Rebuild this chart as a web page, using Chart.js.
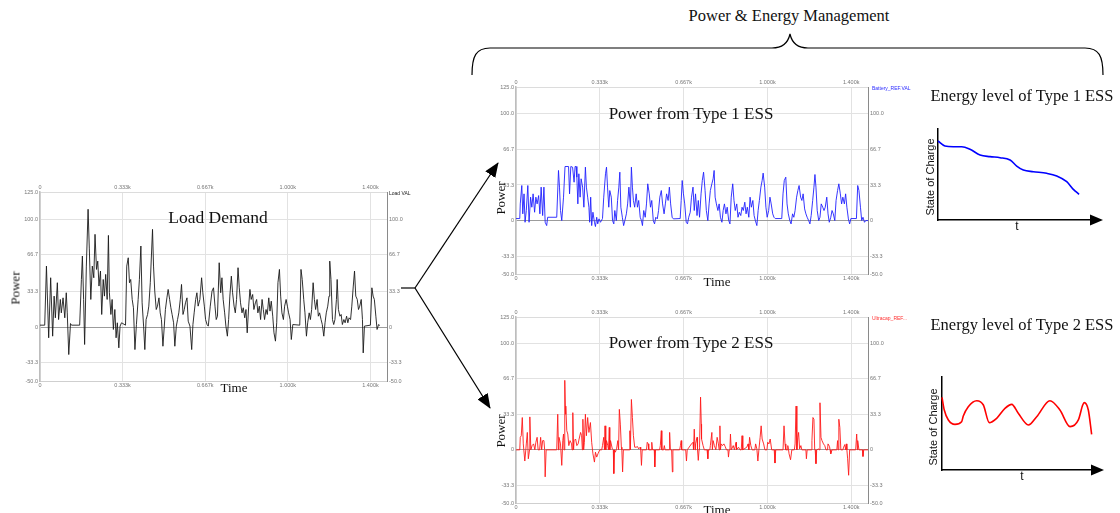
<!DOCTYPE html>
<html>
<head>
<meta charset="utf-8">
<title>Power & Energy Management</title>
<script src="https://cdn.jsdelivr.net/npm/chart.js@4.4.1/dist/chart.umd.min.js"></script>
<style>
  html, body { margin: 0; padding: 0; background: #fff; }
  body { width: 1120px; height: 513px; position: relative; overflow: hidden; }
  canvas, svg, .lbl { position: absolute; }
  .lbl { white-space: nowrap; transform: translate(-50%, -50%); font-family: 'Liberation Serif', 'DejaVu Serif', serif; color: #111; line-height: 1; }
  .rot { transform: translate(-50%, -50%) rotate(-90deg); }
  .sans { font-family: 'Liberation Sans', Arial, sans-serif; }
  .tag { transform: translate(0, -50%); font-family: 'Liberation Sans', Arial, sans-serif; font-size: 5px; }
</style>
</head>
<body>

<svg width="1120" height="513" style="left:0px;top:0px">
  <defs>
    <marker id="ah" markerUnits="userSpaceOnUse" markerWidth="15" markerHeight="12" refX="14" refY="6" orient="auto">
      <path d="M0,0 L15,6 L0,12 z" fill="#000"/>
    </marker>
  </defs>
  <path d="M472,75 C472,56 476,48 490,48 L772,48 C783,48 788,43 790,34 C792,43 797,48 808,48 L1085,48 C1099,48 1103,56 1103,75" fill="none" stroke="#000" stroke-width="1.2"/>
  <line x1="401" y1="288" x2="415" y2="288" stroke="#000" stroke-width="1.2"/>
  <line x1="415" y1="288" x2="498" y2="163" stroke="#000" stroke-width="1.2" marker-end="url(#ah)"/>
  <line x1="415" y1="288" x2="490" y2="408" stroke="#000" stroke-width="1.2" marker-end="url(#ah)"/>
</svg>

<canvas id="loadChart" width="420" height="212" style="left:0px;top:180px"></canvas>
<canvas id="batteryChart" width="430" height="211" style="left:476px;top:75px"></canvas>
<canvas id="ultracapChart" width="430" height="210" style="left:476px;top:305px"></canvas>
<canvas id="soc1Chart" width="205" height="110" style="left:905px;top:120px"></canvas>
<canvas id="soc2Chart" width="205" height="112" style="left:905px;top:368px"></canvas>

<div class="lbl" style="left:789px;top:16px;font-size:16.5px">Power &amp; Energy Management</div>
<div class="lbl" style="left:218px;top:218px;font-size:17.5px">Load Demand</div>
<div class="lbl" style="left:691px;top:113px;font-size:17px">Power from Type 1 ESS</div>
<div class="lbl" style="left:691px;top:342px;font-size:17px">Power from Type 2 ESS</div>
<div class="lbl" style="left:1022px;top:96px;font-size:16.5px">Energy level of Type 1 ESS</div>
<div class="lbl" style="left:1022px;top:325px;font-size:16.5px">Energy level of Type 2 ESS</div>

<div class="lbl rot" style="left:15px;top:288px;font-size:13px">Power</div>
<div class="lbl rot" style="left:500px;top:198px;font-size:13px">Power</div>
<div class="lbl rot" style="left:500px;top:431px;font-size:13px">Power</div>
<div class="lbl" style="left:234px;top:387px;font-size:13px">Time</div>
<div class="lbl" style="left:717px;top:281px;font-size:13px">Time</div>
<div class="lbl" style="left:717px;top:509px;font-size:13px">Time</div>

<div class="lbl rot sans" style="left:930px;top:177px;font-size:11px">State of Charge</div>
<div class="lbl rot sans" style="left:933px;top:427px;font-size:11px">State of Charge</div>
<div class="lbl sans" style="left:1017px;top:226px;font-size:12px">t</div>
<div class="lbl sans" style="left:1022px;top:476px;font-size:12px">t</div>

<div class="lbl tag" style="left:389px;top:193px;color:#222">Load VAL</div>
<div class="lbl tag" style="left:872px;top:88px;color:#2a2aff">Battery_REF.VAL</div>
<div class="lbl tag" style="left:872px;top:318px;color:#ff3030">Ultracap_REF...</div>

<script>
// Skalornas tickar (samma för alla tre tidsdiagram)
const xTickValues = [0, 333.3, 666.7, 1000, 1333.3];
const xTickLabels = ['0', '0.333k', '0.667k', '1.000k', '1.400k'];
const yTickValues = [-50, -33.3, 0, 33.3, 66.7, 100, 125];
const yTickLabels = ['-50.0', '-33.3', '0', '33.3', '66.7', '100.0', '125.0'];

// Lastbehov (Load VAL)
const loadTime = [0,19,26,35,43,51,57,62,70,75,82,86,93,100,106,110,116,123,127,160,167,171,176,180,187,194,199,205,211,217,
  222,228,233,238,244,249,255,260,265,271,276,280,286,291,296,302,307,312,318,323,329,334,345,350,356,361,366,372,377,383,
  389,396,401,407,412,418,423,428,434,439,445,454,458,463,469,474,480,485,490,496,501,506,512,517,523,528,533,539,544,550,
  555,560,566,571,577,582,587,593,598,605,612,617,622,628,633,638,645,652,657,663,668,674,679,
  687,694,700,706,711,716,723,729,734,739,745,750,756,761,766,772,777,783,788,793,799,804,809,815,820,826,831,836,842,847,
  852,858,863,869,874,879,885,890,896,901,906,912,917,923,928,933,939,944,950,955,960,966,971,976,982,987,993,998,1003,1009,
  1014,1020,1048,1053,1058,1064,1069,1075,1080,1086,1091,1096,1102,1107,1112,1118,1123,1128,1134,1139,1145,1150,1155,1161,1166,1169,1174,1180,1185,1190,
  1196,1199,1204,1210,1215,1220,1226,1231,1237,1242,1247,1253,1258,1264,1269,1274,1280,1285,1290,1296,1301,1304,1309,1333,1339,1344,1349,1355,1360,1366,1371];
const loadPower = [1.7,1.7,56.4,-10,45.6,-8.5,28.6,8.5,41,6.9,25.5,13.1,27,8.5,31.7,13.1,-25.5,3.2,1.7,1.7,44,65.7,25.5,-16.2,56.4,109,72.3,25.5,56.4,45.6,
  85.8,53.3,61,37.9,51.8,11.6,44,28.6,48.7,25.5,84.8,31.7,11.6,25.5,-2.3,16.2,-10,3.9,-19.3,0.8,3.9,3.2,1.7,56.4,64.1,41,44,25.5,17.8,-20.9,
  2.3,25.5,44,75,22.4,0.8,-20.9,6.9,11.6,19.3,41,90.4,56.4,33.2,16.2,19.3,27,13.1,6.9,-17.8,-0.8,16.2,27,34.8,25.5,17.8,11.6,3.9,-17.8,0.8,
  6.9,13.1,25.5,39.4,11.6,16.2,22.4,27,5.4,0.8,-20.9,2.3,13.1,25.5,31.7,19.3,25.5,45.6,31.7,19.3,6.9,2.3,0.8,
  19.3,33.2,36.3,19.3,6.9,10,59.5,31.7,45.6,25.5,13.1,0.8,-8.5,6.9,28.6,47.1,31.7,19.3,13.1,25.5,54.9,36.3,22.4,13.1,17.8,8.5,16.2,-5.4,19.3,34.8,
  25.5,30.1,16.2,22.4,25.5,13.1,19.3,6.9,25.5,16.2,6.9,16.2,11.6,27,14.7,23.9,10,-5.4,-13.1,3.9,41,53.3,28.6,13.1,6.9,19.3,25.5,19.3,13.1,6.9,
  -11.6,2.3,1.7,53.3,44,25.5,13.1,-8.5,3.9,13.1,6.9,16.2,41,25.5,16.2,25.5,10,13.1,6.9,2.3,-8.5,3.9,13.1,19.3,28.6,61,44,6.9,2.3,6.9,
  25.5,44,16.2,10,11.6,2.3,6.9,3.9,10,3.9,8.5,6.9,19.3,37.9,51.8,28.6,25.5,16.2,19.3,25.5,6.9,-24,0.8,1.7,36.3,28.6,25.5,10,-2.3,2.3,1.4];

// Effekt från typ 1-lager (Battery_REF.VAL)
const batteryTime = [0,15,17,23,27,32,36,41,47,52,58,63,68,74,79,84,90,95,100,106,111,116,122,126,162,169,173,177,182,189,
  195,209,213,218,225,231,235,239,242,246,250,255,259,265,270,276,280,285,290,293,297,301,306,312,316,321,325,330,336,344,
  349,356,360,364,369,373,379,384,389,393,399,404,409,413,417,423,428,433,439,444,449,455,459,463,467,472,478,483,488,494,
  499,503,508,514,519,524,530,535,540,546,551,556,562,567,572,578,583,589,594,599,605,610,615,621,626,653,657,661,666,671,
  677,682,687,693,
  698,704,709,714,720,725,730,736,741,746,752,757,763,768,773,779,784,788,792,797,803,808,813,819,824,829,835,840,846,851,
  856,862,867,872,878,883,888,894,899,904,910,915,920,926,931,936,942,947,952,958,963,968,974,979,983,989,994,999,1005,1010,
  1015,1021,1026,1031,1057,1062,1067,1073,1078,1083,1089,1094,1100,1105,1110,1116,1121,1126,1132,1137,1142,1148,1153,1158,1164,1169,1174,1180,1185,1189,
  1193,1198,1204,1209,1214,1220,1225,1230,1236,1241,1246,1252,1257,1262,1268,1273,1279,1284,1290,1295,1300,1306,1311,1316,1322,1327,1332,1354,1359,1364,
  1370,1375,1380,1386,1391,1400];
const batteryPower = [1.9,1.9,15.6,32.8,6.3,25,-1.6,9.4,32.8,-1.6,21.9,12.5,25,7.8,21.9,15.6,23.4,6.3,31.3,4.7,31.3,-1.6,-4.7,3.1,3.1,46.9,31.3,9.4,0,21.9,
  50.6,50.6,25,50.6,50,35.9,50.6,50.6,40.6,15.6,43.8,21.9,39.1,31.3,12.5,50,31.3,21.9,12.5,-1.6,21.9,-4.7,7.8,-1.6,-5.6,3.1,-3.1,1.6,-1.6,1.9,
  21.9,43.8,50,31.3,12.5,28.1,21.9,0,-3.1,9.4,0,18.8,31.3,45.3,12.5,3.1,-4.7,0,6.3,15.6,31.3,12.5,50,31.3,18.8,12.5,25,12.5,18.8,3.1,
  0,-4.7,9.4,3.1,15.6,34.4,25,12.5,18.8,0,-3.1,3.1,1.6,9.4,21.9,28.1,15.6,6.3,15.6,25,18.8,31.3,15.6,3.1,1.6,1.9,18.8,37.5,25,15.6,
  -1.6,-3.1,3.1,7.8,
  21.9,31.3,9.4,25,4.7,18.8,3.1,25,37.5,45.3,28.1,9.4,0,15.6,28.1,34.4,39.1,46.9,21.9,15.6,9.4,15.6,3.1,-1.6,9.4,15.6,6.3,12.5,0,-3.1,
  21.9,34.4,18.8,9.4,15.6,3.1,7.8,4.7,12.5,9.4,17.2,6.3,12.5,3.1,21.9,12.5,18.8,4.7,0,-4.7,9.4,18.8,31.3,37.5,44.4,31.3,12.5,3.1,9.4,21.9,
  15.6,6.3,3.1,1.9,1.9,25,37.5,40.6,15.6,6.3,0,-3.1,6.3,3.1,9.4,21.9,28.1,32.8,21.9,18.8,25,10.9,6.3,3.1,0,-3.1,4.7,18.8,31.3,43.1,
  31.3,9.4,0,3.1,15.6,12.5,9.4,12.5,21.9,6.3,-1.6,3.1,9.4,6.3,0,18.8,28.1,34.4,25,15.6,21.9,15.6,25,12.5,1.6,-3.1,1.9,1.9,32.8,28.1,
  12.5,0,3.1,-1.6,0,0];

// Effekt från typ 2-lager (Ultracap)
const ultracapTime = [0,15,17,21,25,29,35,39,41,45,49,54,55,59,64,70,75,79,84,88,94,98,102,106,111,114,116,120,162,166,
  169,171,177,182,186,189,191,194,197,198,202,206,210,215,221,223,226,229,231,237,242,247,251,257,261,264,266,269,272,276,
  280,285,290,296,301,306,312,316,321,326,333,341,344,349,352,354,357,360,365,368,371,373,376,383,387,389,392,395,400,405,
  408,411,415,419,421,424,427,451,453,455,459,463,467,472,478,483,488,494,496,499,502,519,522,526,528,538,540,543,550,552,
  555,571,574,578,580,587,590,593,609,611,614,619,622,624,651,654,657,659,675,678,681,
  698,704,706,709,712,714,720,722,725,728,730,734,737,738,744,749,760,763,765,771,773,779,781,784,789,795,800,805,808,811,
  813,816,821,827,832,837,843,845,848,851,853,856,864,869,875,877,885,891,896,899,902,918,923,926,929,934,939,950,953,958,
  962,966,971,975,979,985,990,998,1001,1006,1011,1017,1027,1030,1033,1062,1066,1070,1073,1078,1081,1084,1086,1092,1097,1107,1110,1114,1117,1121,
  1124,1128,1133,1137,1153,1155,1158,1174,1177,1181,1185,1188,1190,1193,1196,1204,1206,1209,1213,1217,1223,1228,1233,1239,1241,1247,1249,1252,1257,
  1276,1279,1281,1284,1288,1292,1300,1303,1308,1311,1314,1316,1319,1323,1327,1351,1355,1358,1359,1364,1378,1380,1383,1400];
const ultracapPower = [0,0,11.8,13.3,30.4,5.6,-10.5,0,5.6,16.4,-8.4,0,31,0,4,5.6,0,7.1,11.8,0,0,11.8,0,8.7,8.7,0,-25.4,0,0,33.5,
  0,11.8,5.6,-14.6,8.7,14.9,0,65.4,33.5,41.2,18,14.9,4,8.7,5.6,0,35,0,8.7,10.2,4,5.6,10.2,16.4,13.3,0,28.8,0,7.1,33.5,
  13.3,30.4,16.4,25.7,7.1,-3.7,-11.5,-2.2,-6.8,-3.7,0,0,4,11.8,0,22.6,0,8.7,4,0,21.1,0,8.7,0.9,0,-22.3,0,-2.2,0.9,8.7,
  0,38.1,24.2,2.5,0,-20.8,0,0,18,0,47.4,30.4,13.3,2.5,2.5,3.1,0.9,2.5,0,-14.6,0,0,7.1,5.6,0,0,7.1,0,0,-16.1,
  0,0,4,18,0,0,4,0,0,16.4,0,0,-20.8,0,0,4,8.7,0,0,-10.5,0,
  5.6,7.1,0,19.5,0,5.6,11.8,0,-9.9,0,2.5,49.6,24.2,10.2,4,0,0,-8.4,0,0,4,16.4,0,8.7,4,0,11.8,5.6,0,22.6,
  0,5.6,4,5.6,3.1,0,0,-6.8,0,2.5,14.9,0,4,0,7.1,0,2.5,0,0,13.3,0,2.5,5.6,0,11.8,4,0,0,5.6,0.9,
  -10.5,0,11.8,22.6,10.2,5.6,0,0,7.1,5.6,10.2,0,0,-12.4,0,0,22.6,5.6,0,0,4,0,-3.7,-9.3,0,0,5.6,41.2,0,11.8,
  16.4,0.9,4,0,0,-8.4,0,0,8.7,30.4,28.8,0,0,-13,0,0.9,0,44.3,11.8,8.7,5.6,4,0,0,5.6,3.1,0,-3.7,0,
  0,8.7,0,28.8,21.1,0,0,2.5,5,0,5.6,0,-8.4,-23.9,0,0,14.9,0,8.7,0,0,-6.2,0,0];

// Laddningsnivå (skiss, relativa enheter 0-100)
const soc1T = [0,4.5,9.9,15.4,20.8,27.3,33.8,40.3,46.8,51.1,55.4,61.9,70.6,77.1,83.6,87.9,91.6];
const soc1Level = [86.8,81.3,80.5,80.5,77.7,71.4,69.6,68.5,65.9,59.3,54.9,53.1,51.3,48.4,42.1,33.7,28.2];
const soc2T = [0,1.5,4.2,8.6,13,14.1,17.4,23,27.4,31.3,36.2,41.7,46.2,50.5,57.2,62.7,71.5,78.1,84.8,90.3,93.2,94.2,96.9,99.1];
const soc2Level = [78.2,64.5,53.8,49.1,51.9,58.1,68.1,74.5,69.9,50.9,55.6,66.3,70.6,61,48.4,57.3,74.5,64.5,46.6,53.8,69.9,72.4,64.5,38.4];

Chart.defaults.font.family = "'Liberation Sans', Arial, sans-serif";

const tickFont = { size: 5.5 };
const tickColor = '#777';

/**
 * Bygger ett x/y-par för varje mätpunkt.
 */
function toPoints(xs, ys) {
    const n = Math.min(xs.length, ys.length);
    const pts = [];
    for (let i = 0; i < n; i++) pts.push({ x: xs[i], y: ys[i] });
    return pts;
}

function setXTicks(scale) { scale.ticks = xTickValues.map(v => ({ value: v })); }
function setYTicks(scale) { scale.ticks = yTickValues.map(v => ({ value: v })); }

/**
 * Skapar ett oscilloskop-liknande tidsdiagram.
 * @param {string} id - canvas-id
 * @param {Array} times - tidpunkter
 * @param {Array} values - effektvärden
 * @param {string} color - linjefärg
 * @param {Object} box - axlarnas bredd/höjd runt ritytan
 */
function createScopeChart(id, times, values, color, box) {
    const xAxis = (pos, h, grid) => ({
        type: 'linear', position: pos, min: 0, max: 1400,
        afterBuildTicks: setXTicks,
        afterFit: s => { s.height = h; },
        ticks: { font: tickFont, color: tickColor, padding: 1, maxRotation: 0, autoSkip: false,
                 callback: (v, i) => xTickLabels[i] },
        grid: { display: grid, drawTicks: false, color: '#e2e2e2', lineWidth: 1 },
        border: { color: pos === 'top' ? '#dcdcdc' : '#cfcfcf', width: 1 }
    });
    const yAxis = (pos, w, grid) => ({
        type: 'linear', position: pos, min: -50, max: 125,
        afterBuildTicks: setYTicks,
        afterFit: s => { s.width = w; },
        // högeraxeln visar inte 125.0 (där står signalens namn)
        ticks: { font: tickFont, color: tickColor, padding: 2, autoSkip: false,
                 callback: (v, i) => (pos === 'right' && i === yTickLabels.length - 1) ? '' : yTickLabels[i] },
        grid: { display: grid, drawTicks: false, lineWidth: 1,
                color: c => (c.tick && c.tick.value === 0) ? '#9c9c9c' : '#e2e2e2' },
        border: { color: pos === 'left' ? '#bdbdbd' : '#8a8a8a', width: pos === 'left' ? 1.5 : 1 }
    });

    return new Chart(document.getElementById(id), {
        type: 'line',
        data: {
            datasets: [{
                data: toPoints(times, values),
                borderColor: color,
                borderWidth: 0.9,
                pointRadius: 0,
                tension: 0
            }]
        },
        options: {
            responsive: false,
            animation: false,
            events: [],
            layout: { padding: 0 },
            plugins: { legend: { display: false }, tooltip: { enabled: false } },
            scales: {
                x: xAxis('bottom', box.bottom, true),
                x2: xAxis('top', box.top, false),
                y: yAxis('left', box.left, true),
                y2: yAxis('right', box.right, false)
            }
        }
    });
}

// Pilspets på tidsaxeln i SOC-skisserna
const arrowHead = {
    id: 'arrowHead',
    afterDraw(chart) {
        const { ctx, chartArea: a } = chart;
        ctx.save();
        ctx.fillStyle = '#000';
        ctx.beginPath();
        ctx.moveTo(a.right - 2, a.bottom - 5.5);
        ctx.lineTo(a.right + 11, a.bottom);
        ctx.lineTo(a.right - 2, a.bottom + 5.5);
        ctx.closePath();
        ctx.fill();
        ctx.restore();
    }
};

/**
 * Skapar en skiss av laddningsnivån över tid.
 */
function createSocChart(id, xs, ys, color, pad) {
    const axis = {
        type: 'linear', min: 0, max: 100,
        ticks: { display: false },
        grid: { display: false, drawTicks: false },
        border: { color: '#000', width: 1.5 }
    };
    return new Chart(document.getElementById(id), {
        type: 'line',
        data: {
            datasets: [{
                data: toPoints(xs, ys),
                borderColor: color,
                borderWidth: 1.6,
                pointRadius: 0,
                cubicInterpolationMode: 'monotone',
                clip: false
            }]
        },
        options: {
            responsive: false,
            animation: false,
            events: [],
            layout: { padding: pad },
            plugins: { legend: { display: false }, tooltip: { enabled: false } },
            scales: {
                x: Object.assign({}, axis, { afterFit: s => { s.height = 0; } }),
                y: Object.assign({}, axis, { afterFit: s => { s.width = 0; } })
            }
        },
        plugins: [arrowHead]
    });
}

createScopeChart('loadChart', loadTime, loadPower, '#1a1a1a', { left: 40, right: 33, top: 12, bottom: 11 });
createScopeChart('batteryChart', batteryTime, batteryPower, '#2020ff', { left: 40, right: 38, top: 12, bottom: 12 });
createScopeChart('ultracapChart', ultracapTime, ultracapPower, '#ff1a1a', { left: 40, right: 38, top: 12, bottom: 12 });
createSocChart('soc1Chart', soc1T, soc1Level, '#0000ff', { left: 33, top: 9, right: 18, bottom: 10 });
createSocChart('soc2Chart', soc2T, soc2Level, '#ff0000', { left: 37, top: 9, right: 17, bottom: 10 });
</script>
</body>
</html>
